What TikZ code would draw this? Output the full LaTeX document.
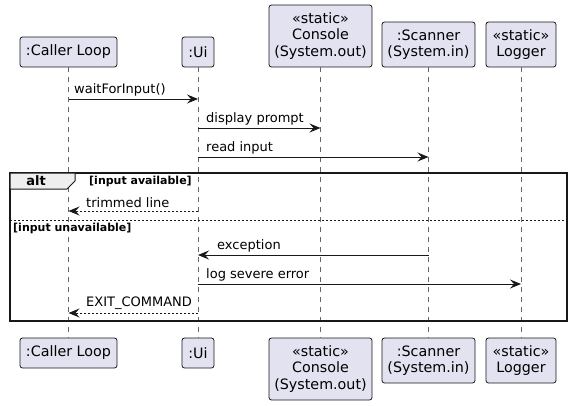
\documentclass[tikz,border=0pt]{standalone}
\usepackage{fontspec}
\setmainfont{DejaVu Sans}
\usetikzlibrary{arrows.meta}
\definecolor{partfill}{HTML}{E2E2F0}
\definecolor{partdraw}{HTML}{181818}
\definecolor{tabfill}{HTML}{EEEEEE}
\begin{document}
\begin{tikzpicture}[x=1pt,y=-1pt,
  part/.style={draw=partdraw, fill=partfill, line width=0.8pt, rounded corners=2.5pt, inner sep=0pt, align=center, font=\fontsize{14.3}{16.5}\selectfont},
  life/.style={draw=black!60, line width=0.6pt, dash pattern=on 5pt off 5pt},
  msg/.style={draw=partdraw, line width=1pt, -{Stealth[length=11pt,width=9pt,inset=4pt]}},
  ret/.style={msg, dash pattern=on 2pt off 2pt},
  lbl/.style={anchor=south west, inner sep=0pt, font=\fontsize{13}{15}\selectfont},
  cond/.style={anchor=west, inner sep=0pt, font=\bfseries\fontsize{11}{13}\selectfont}]
\useasboundingbox (0,0) rectangle (572,405);
% top participants
\node[part, minimum width=97, minimum height=30] (clt) at (68.5,52) {:Caller Loop};
\node[part, minimum width=32, minimum height=30] (uit) at (198,52) {:Ui};
\node[part, minimum width=103, minimum height=62] (cot) at (320.5,36) {«static»\\Console\\(System.out)};
\node[part, minimum width=93, minimum height=45] (sct) at (428.5,44.5) {:Scanner\\(System.in)};
\node[part, minimum width=70, minimum height=45] (lgt) at (521,44.5) {«static»\\Logger};
% bottom participants
\node[part, minimum width=97, minimum height=30] (clb) at (68.5,353) {:Caller Loop};
\node[part, minimum width=32, minimum height=30] (uib) at (198,353) {:Ui};
\node[part, minimum width=103, minimum height=62] (cob) at (320.5,369) {«static»\\Console\\(System.out)};
\node[part, minimum width=93, minimum height=45] (scb) at (428.5,360.5) {:Scanner\\(System.in)};
\node[part, minimum width=70, minimum height=45] (lgb) at (521,360.5) {«static»\\Logger};
% lifelines
\draw[life] (clt.south) -- (clb.north);
\draw[life] (uit.south) -- (uib.north);
\draw[life] (cot.south) -- (cob.north);
\draw[life] (sct.south) -- (scb.north);
\draw[life] (lgt.south) -- (lgb.north);
% messages
\draw[msg] (clt.south |- 0,99) -- (uit.south |- 0,99);
\node[lbl] (l1) at (74,96) {waitForInput()};
\draw[msg] (uit.south |- 0,128) -- (cot.south |- 0,128);
\node[lbl] (l2) at (206,125) {display prompt};
\draw[msg] (uit.south |- 0,157) -- (sct.south |- 0,157);
\node[lbl] (l3) at (206,154) {read input};
% alt frame
\draw[line width=1.6pt, draw=partdraw] (10,173) rectangle (567,321);
\draw[line width=1pt, draw=partdraw, fill=tabfill] (10,173) -- (75,173) -- (75,181) -- (67,189) -- (10,189) -- cycle;
\node[inner sep=0pt, font=\bfseries\fontsize{13}{15}\selectfont] (alt) at (36,181) {alt};
\node[cond] (c1) at (89,181.5) {[input available]};
\draw[ret] (uit.south |- 0,211) -- (clt.south |- 0,211);
\node[lbl] (l4) at (86,208) {trimmed line};
\draw[draw=partdraw, line width=0.8pt, dash pattern=on 2pt off 2pt] (10,220) -- (567,220);
\node[cond] (c2) at (13,228) {[input unavailable]};
\draw[msg] (sct.south |- 0,255) -- (uit.south |- 0,255);
\node[lbl] (l5) at (217,252) {exception};
\draw[msg] (uit.south |- 0,284) -- (lgt.south |- 0,284);
\node[lbl] (l6) at (206,281) {log severe error};
\draw[ret] (uit.south |- 0,313) -- (clt.south |- 0,313);
\node[lbl] (l7) at (86,310) {EXIT\_COMMAND};
\end{tikzpicture}
\end{document}
